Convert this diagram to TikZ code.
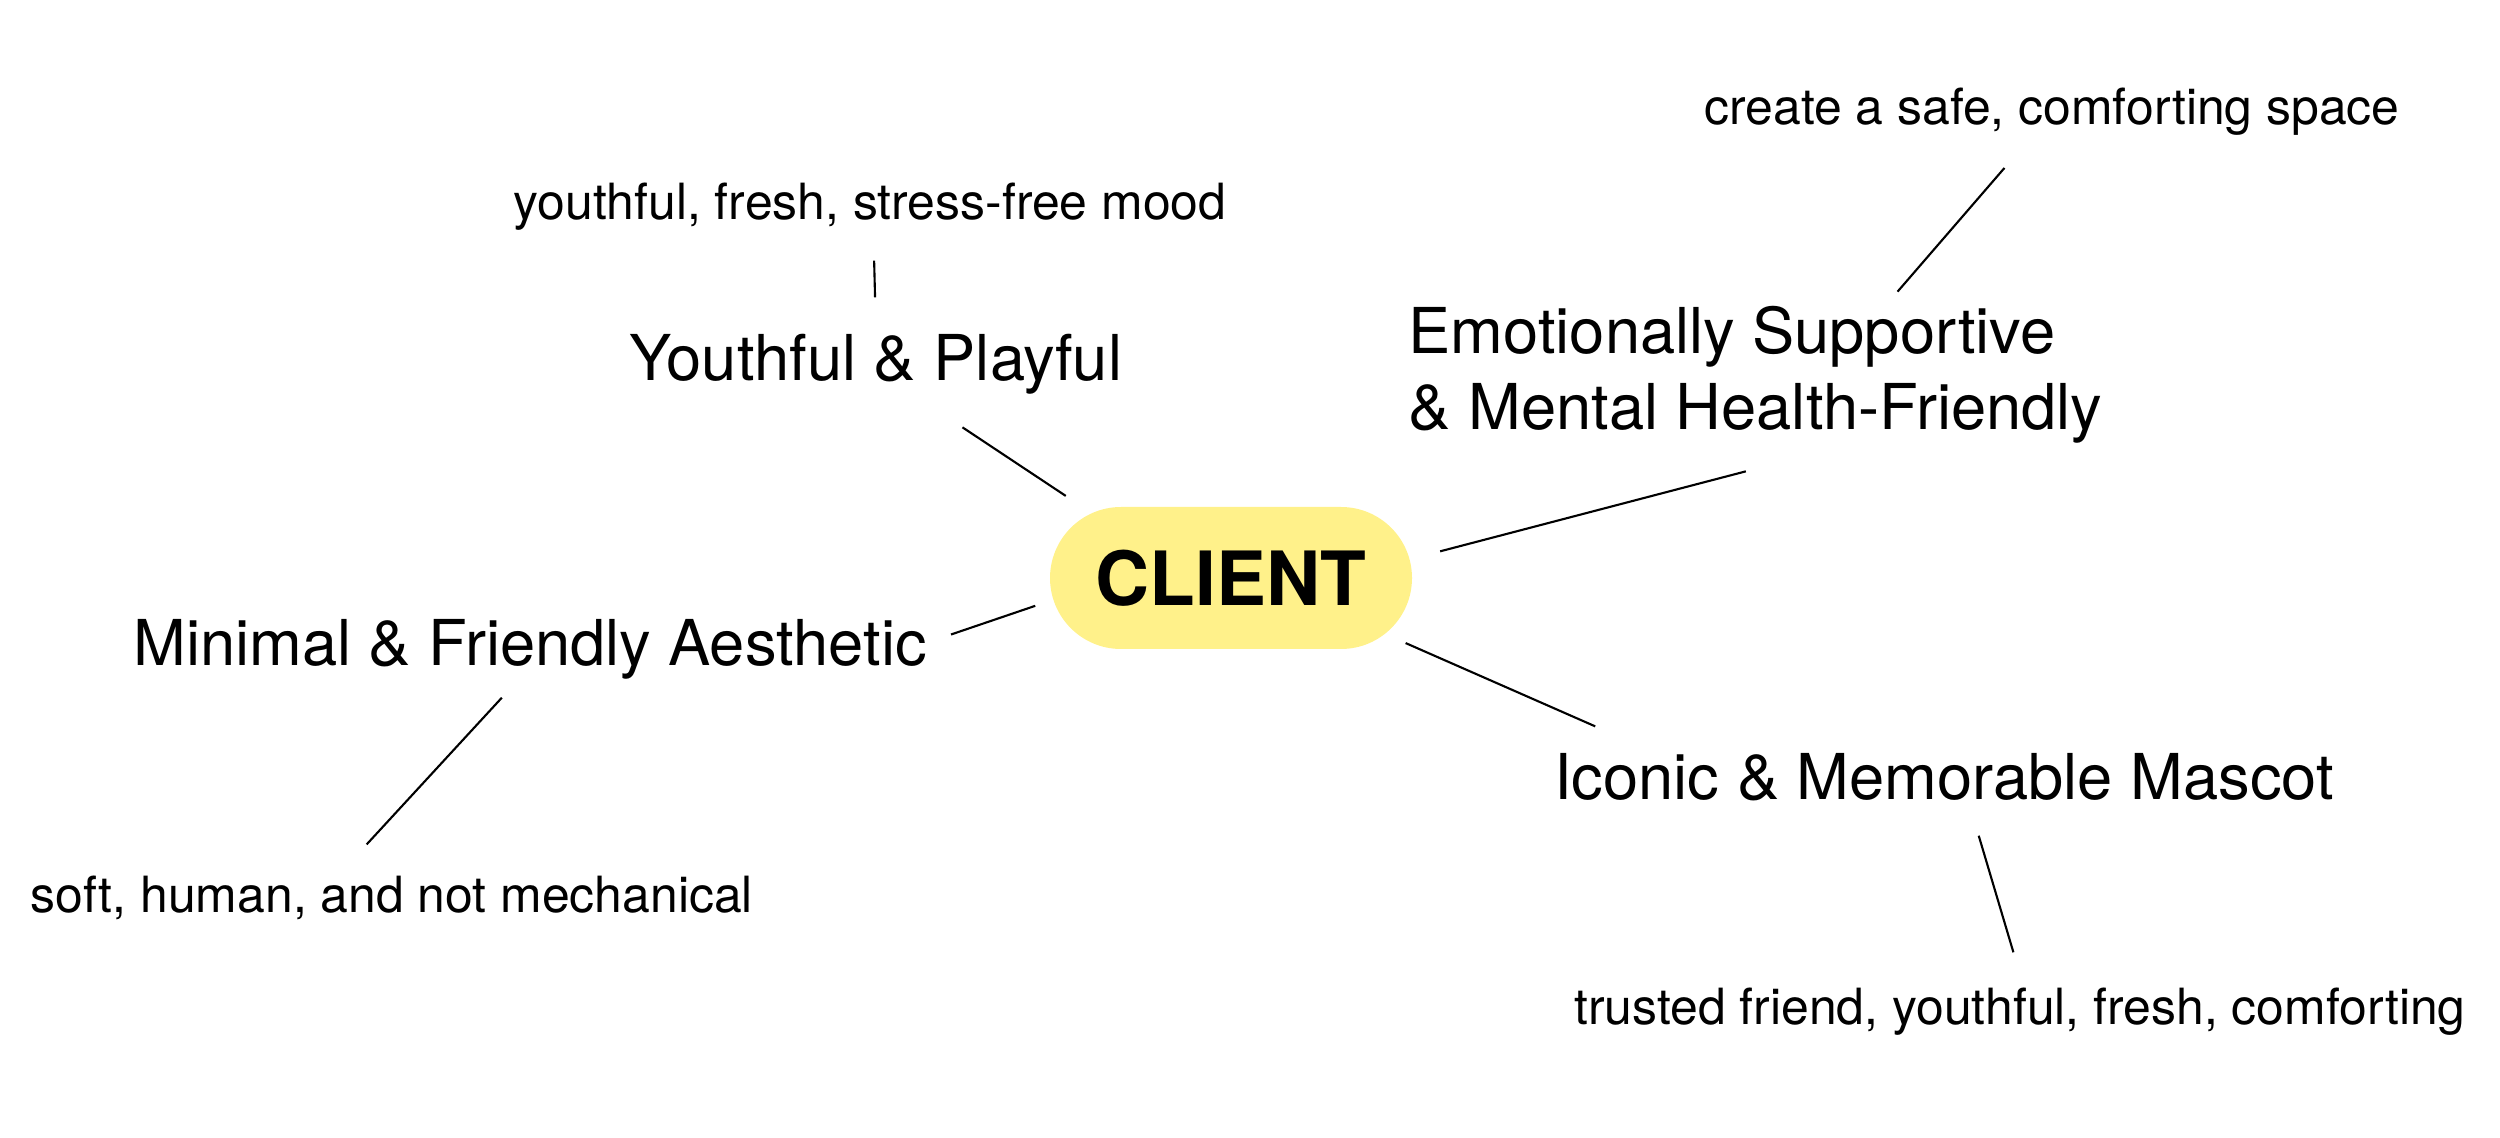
\documentclass[tikz,border=0pt]{standalone}
\usepackage{fontspec}
\setmainfont{TeX Gyre Heros}
\usetikzlibrary{shapes.misc}
\definecolor{hubyellow}{HTML}{FFF18A}

\begin{document}
\begin{tikzpicture}[
 hub/.style={rounded rectangle,fill=hubyellow,minimum width=3.62cm,minimum height=1.42cm,inner sep=0pt,font=\fontsize{21.3}{25}\selectfont\bfseries},
 big/.style={inner sep=0pt,text height=0.46cm,text depth=0.13cm,font=\fontsize{18}{21.5}\selectfont},
 small/.style={inner sep=0pt,text height=0.36cm,text depth=0.105cm,font=\fontsize{14.2}{17}\selectfont},
 ln/.style={line width=0.6pt,black}]
\useasboundingbox (0,0) rectangle (25,-11.38);

\node[hub] (client) at (12.31,-5.78) {CLIENT};

\node[big,anchor=base] (youth) at (8.76,-3.81) {Youthful \& Playful};
\node[small,anchor=base] (youthsub) at (8.70,-2.20) {youthful, fresh, stress-free mood};

\node[anchor=north west,inner sep=0pt,align=left,font=\fontsize{18}{21.5}\selectfont] (emo) at (14.08,-3.06) {Emotionally Supportive\\\& Mental Health-Friendly};
\node[small,anchor=base] (create) at (20.52,-1.25) {create a safe, comforting space};

\node[big,anchor=base] (minimal) at (5.30,-6.66) {Minimal \& Friendly Aesthetic};
\node[small,anchor=base] (soft) at (3.92,-9.12) {soft, human, and not mechanical};

\node[big,anchor=base] (icon) at (19.44,-8.00) {Iconic \& Memorable Mascot};
\node[small,anchor=base] (trusted) at (20.20,-10.24) {trusted friend, youthful, fresh, comforting};

\draw[ln,shorten <=2.95mm,shorten >=3.7mm] (youthsub.-82.2) -- (youth.90);
\draw[ln,shorten <=3.05mm,shorten >=5.9mm] (client.155.5) -- (youth.-39.3);
\draw[ln,shorten <=3.1mm,shorten >=10.8mm] (client.6.5) -- (emo.-36.3);
\draw[ln,shorten <=1.9mm,shorten >=4.2mm] (emo.28.3) -- (create.230.3);
\draw[ln,shorten <=1.85mm,shorten >=2.5mm] (client.187.2) -- (minimal.1.25);
\draw[ln,shorten <=2.45mm,shorten >=4.2mm] (minimal.-111.5) -- (soft.156.4);
\draw[ln,shorten <=2.2mm,shorten >=6.7mm] (client.-20.2) -- (icon.174.6);
\draw[ln,shorten <=2.3mm,shorten >=3.65mm] (icon.-47) -- (trusted.81.7);
\end{tikzpicture}
\end{document}
